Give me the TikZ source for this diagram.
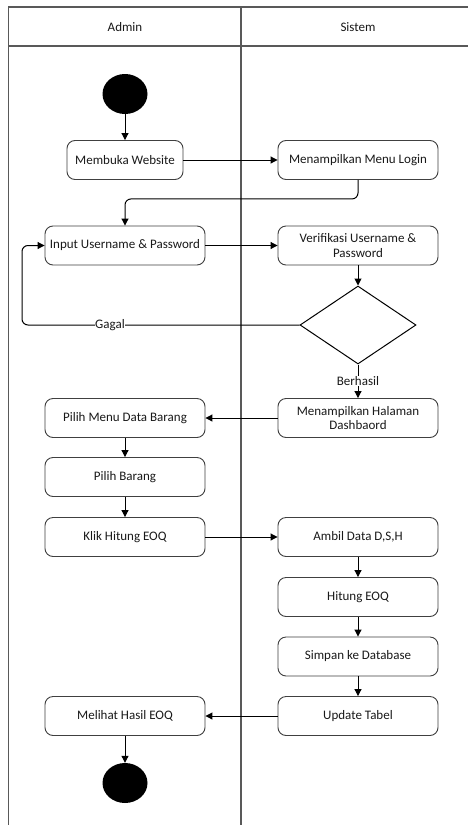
\documentclass[tikz,border=0pt]{standalone}
\usepackage{fontspec}
\setmainfont{Carlito}
\usetikzlibrary{arrows.meta,shapes.geometric}
\begin{document}
\begin{tikzpicture}[x=1pt,y=-1pt,
  txt/.style={font=\fontsize{13}{14.5}\selectfont,text=black!90},
  lane/.style={draw=black!65,line width=1.3pt},
  act/.style={txt,draw=black!75,line width=0.9pt,rounded corners=8pt,
    minimum width=160pt,minimum height=39pt,align=center,inner sep=2pt},
  dot/.style={ellipse,fill=black,minimum width=45pt,minimum height=40pt,inner sep=0pt},
  flow/.style={draw=black,line width=1pt,-{Triangle[length=7pt,width=7pt]},rounded corners=6pt},
  lbl/.style={txt,fill=white,inner sep=0.5pt},
  choice/.style={diamond,draw=black,line width=1pt,minimum width=116pt,minimum height=78pt,
    inner sep=0pt,aspect=1.49}]
\useasboundingbox (0,0) rectangle (468,825);
\fill[white] (0,0) rectangle (468,825);

% swimlanes
\draw[lane] (8.5,840) -- (8.5,7) -- (480,7);
\draw[lane] (8.5,46) -- (480,46);
\draw[lane] (241,7) -- (241,840);
\node[txt] (hA) at (125,27) {Admin};
\node[txt] (hS) at (358,27) {Sistem};

% activities
\node[dot] (start) at (125,94) {};
\node[act,minimum width=116pt] (web) at (125,160) {Membuka Website};
\node[act] (login) at (358,160) {Menampilkan Menu Login};
\node[act] (input) at (125,245.5) {Input Username \& Password};
\node[act] (verif) at (358,245.5) {Verifikasi Username \&\\Password};
\node[choice] (dec) at (358,325) {};
\node[act] (dash) at (358,418) {Menampilkan Halaman\\Dashbaord};
\node[act] (menu) at (125,418) {Pilih Menu Data Barang};
\node[act] (pilih) at (125,477) {Pilih Barang};
\node[act] (klik) at (125,537) {Klik Hitung EOQ};
\node[act] (ambil) at (358,537) {Ambil Data D,S,H};
\node[act] (hitung) at (358,597) {Hitung EOQ};
\node[act] (simpan) at (358,656.5) {Simpan ke Database};
\node[act] (upd) at (358,716) {Update Tabel};
\node[act] (lihat) at (125,716) {Melihat Hasil EOQ};
\node[dot] (stop) at (125,783) {};

% corner of the retry loop
\coordinate (gl) at (22,325);

% connectors
\draw[flow] (start) -- (web);
\draw[flow] (web) -- (login);
\draw[flow] (login.south) -- ++(0,19) -| (input.north);
\draw[flow] (input) -- (verif);
\draw[flow] (verif) -- (dec);
\draw[flow] (dec.west) -- (gl) |- (input.west);
\node[lbl] (gagal) at (110,325) {Gagal};
\draw[flow] (dec.south) -- (dash.north);
\node[lbl] (ok) at (358,381) {Berhasil};
\draw[flow] (dash) -- (menu);
\draw[flow] (menu) -- (pilih);
\draw[flow] (pilih) -- (klik);
\draw[flow] (klik) -- (ambil);
\draw[flow] (ambil) -- (hitung);
\draw[flow] (hitung) -- (simpan);
\draw[flow] (simpan) -- (upd);
\draw[flow] (upd) -- (lihat);
\draw[flow] (lihat) -- (stop);
\end{tikzpicture}
\end{document}
